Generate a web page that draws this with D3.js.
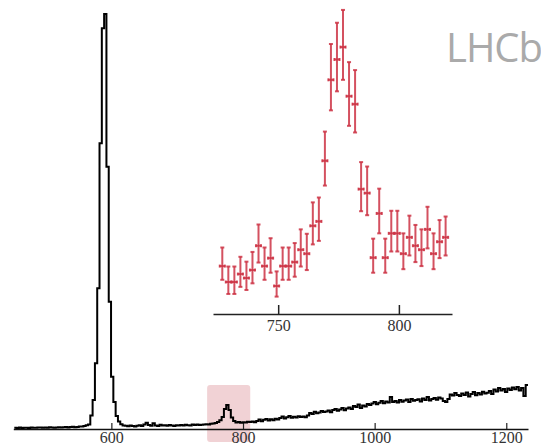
<!DOCTYPE html>
<html>
<head>
<meta charset="utf-8">
<script src="https://cdnjs.cloudflare.com/ajax/libs/d3/7.8.5/d3.min.js"></script>
<style>
  body { margin: 0; background: #fff; }
  svg { display: block; }
</style>
</head>
<body>
<svg class="lhcb" width="541" height="447"></svg>
<script>
// main spectrum, 3.5 MeV bins starting at 452.5
var mainStart = 452.5;
var mainBin = 3.5;
var mainCounts = [
  12, 10, 14, 11, 13, 12, 10, 15, 13, 12,
  14, 16, 12, 15, 13, 17, 14, 12, 16, 18,
  15, 17, 20, 16, 19, 22, 18, 21, 24, 26,
  30, 38, 45, 135, 290, 657, 1407, 2857, 4007, 4150,
  2623, 1273, 523, 270, 130, 75, 48, 35, 32, 28,
  35, 30, 26, 33, 38, 30, 45, 62, 40, 33,
  58, 36, 30, 42, 35, 38, 32, 40, 36, 30,
  38, 34, 40, 36, 42, 38, 35, 44, 40, 46,
  40, 42, 45, 48, 44, 52, 55, 60, 70, 88,
  120, 200, 240, 190, 115, 80, 65, 70, 62, 68,
  66, 72, 70, 75, 68, 80, 95, 78, 92, 100,
  85, 98, 88, 102, 95, 110, 125, 105, 118, 130,
  112, 122, 115, 128, 120, 125, 118, 135, 160, 150,
  172, 158, 165, 180, 170, 175, 185, 168, 190, 200,
  182, 195, 210, 188, 205, 215, 200, 230, 220, 245,
  210, 235, 225, 250, 240, 255, 270, 248, 262, 280,
  258, 275, 265, 320, 270, 280, 265, 290, 272, 285,
  295, 270, 300, 282, 290, 298, 275, 305, 290, 320,
  285, 300, 310, 292, 315, 305, 280, 270, 300, 345,
  335, 360, 340, 330, 355, 340, 365, 325, 350, 370,
  338, 360, 345, 372, 355, 362, 380, 350, 395, 375,
  410, 385, 400, 370, 405, 390, 415, 398, 420, 385,
  410, 330, 440
];
var mainTicks = [600, 800, 1000, 1200];
var highlight = [745.5, 811];

// zoomed region, 2.5 MeV bins starting at 725.6
var insetStart = 725.6;
var insetBin = 2.5;
var insetCounts = [13.0, 9.4, 9.4, 11.2, 10.3, 12.1, 17.6, 13.0, 14.8, 8.5,
  13.0, 13.0, 13.9, 16.7, 15.8, 22.1, 23.1, 36.8, 55.1, 59.7,
  62.5, 51.4, 49.6, 30.4, 29.5, 14.9, 24.9, 14.9, 20.4, 20.4,
  15.8, 19.5, 17.6, 16.7, 21.3, 15.8, 18.5, 19.5];
var insetHigh = [17.2, 12.9, 12.9, 15.1, 14.0, 16.2, 22.4, 17.2, 19.3, 11.8,
  17.2, 17.2, 18.2, 21.3, 20.3, 27.4, 28.5, 43.4, 63.2, 68.0,
  70.9, 59.1, 57.3, 36.5, 35.5, 19.2, 30.5, 19.2, 25.5, 25.5,
  20.4, 24.4, 22.3, 21.3, 26.4, 20.4, 23.4, 24.2];
var insetLow = [9.9, 6.7, 6.7, 8.3, 7.6, 9.1, 13.8, 9.9, 11.5, 6.1,
  9.9, 9.9, 10.6, 12.9, 12.1, 17.9, 18.7, 31.2, 48.2, 52.5,
  55.1, 44.7, 43.2, 25.4, 24.5, 11.5, 20.4, 11.5, 16.3, 16.3,
  12.3, 15.4, 13.9, 13.0, 17.0, 12.3, 14.8, 15.4];
var insetTicks = [750, 800];

var svg = d3.select(".lhcb");

var x = d3.scaleLinear()
    .domain([451, 1233])
    .range([13.3, 528]);

var y = d3.scaleLinear()
    .domain([0, 4150])
    .range([429, 14]);

var xi = d3.scaleLinear()
    .domain([723, 822])
    .range([213, 452]);

var yi = d3.scaleLinear()
    .domain([0, 70])
    .range([323.6, 13.9]);

// LHCb label
svg.append("text")
    .attr("x", 446)
    .attr("y", 62)
    .attr("font-family", "Open Sans")
    .attr("font-size", 40)
    .attr("letter-spacing", -1)
    .attr("fill", "#aaaaaa")
    .text("LHCb");

// highlighted window
svg.append("rect")
    .attr("x", x(highlight[0]))
    .attr("width", x(highlight[1]) - x(highlight[0]))
    .attr("y", 385)
    .attr("height", 57)
    .attr("rx", 3)
    .attr("fill", "#f1d2d5");

// main axis
var mainAxis = d3.axisBottom(x)
    .tickValues(mainTicks)
    .tickFormat(d3.format("d"))
    .tickSizeInner(-6)
    .tickSizeOuter(0)
    .tickPadding(3);

var gMain = svg.append("g")
    .attr("transform", "translate(0," + y(0) + ")")
    .call(mainAxis);

gMain.select(".domain").attr("stroke", "#111").attr("stroke-width", 1.5);
gMain.selectAll(".tick line").attr("stroke", "#222").attr("stroke-width", 1.2);
gMain.selectAll(".tick text")
    .style("font-family", "'Liberation Serif', serif")
    .attr("font-size", 16)
    .attr("fill", "#333");

// step histogram
var pts = mainCounts.map(function(d, i) { return [mainStart + i * mainBin, d]; });
pts.push([mainStart + mainCounts.length * mainBin, mainCounts[mainCounts.length - 1]]);

var step = d3.line()
    .x(function(d) { return x(d[0]); })
    .y(function(d) { return y(d[1]); })
    .curve(d3.curveStepAfter);

svg.append("path")
    .datum(pts)
    .attr("d", step)
    .attr("fill", "none")
    .attr("stroke", "#000")
    .attr("stroke-width", 2);

// inset axis
var insetAxis = d3.axisBottom(xi)
    .tickValues(insetTicks)
    .tickFormat(d3.format("d"))
    .tickSizeInner(-9)
    .tickSizeOuter(0)
    .tickPadding(6);

var gInset = svg.append("g")
    .attr("transform", "translate(0,314)")
    .call(insetAxis);

gInset.select(".domain").attr("stroke", "#222").attr("stroke-width", 1.6);
gInset.selectAll(".tick line").attr("stroke", "#222").attr("stroke-width", 1.5);
gInset.selectAll(".tick text")
    .style("font-family", "'Liberation Serif', serif")
    .attr("font-size", 16)
    .attr("fill", "#333");

// inset error bars
var red = "#cc3344";
var pt = svg.append("g")
    .attr("stroke", red)
    .attr("stroke-width", 2)
    .attr("stroke-opacity", 0.85)
  .selectAll("g")
    .data(insetCounts)
  .enter().append("g");

function cx(i) { return xi(insetStart + (i + 0.5) * insetBin); }

pt.append("line")
    .attr("x1", function(d, i) { return cx(i); })
    .attr("x2", function(d, i) { return cx(i); })
    .attr("y1", function(d, i) { return yi(insetLow[i]); })
    .attr("y2", function(d, i) { return yi(insetHigh[i]); });

pt.append("line")
    .attr("x1", function(d, i) { return cx(i) - 2; })
    .attr("x2", function(d, i) { return cx(i) + 2; })
    .attr("y1", function(d, i) { return yi(insetHigh[i]); })
    .attr("y2", function(d, i) { return yi(insetHigh[i]); });

pt.append("line")
    .attr("x1", function(d, i) { return cx(i) - 2; })
    .attr("x2", function(d, i) { return cx(i) + 2; })
    .attr("y1", function(d, i) { return yi(insetLow[i]); })
    .attr("y2", function(d, i) { return yi(insetLow[i]); });

pt.append("line")
    .attr("x1", function(d, i) { return xi(insetStart + i * insetBin); })
    .attr("x2", function(d, i) { return xi(insetStart + (i + 1) * insetBin); })
    .attr("y1", function(d) { return yi(d); })
    .attr("y2", function(d) { return yi(d); });

pt.append("line")
    .attr("x1", function(d, i) { return xi(insetStart + i * insetBin) + 0.5; })
    .attr("x2", function(d, i) { return xi(insetStart + i * insetBin) + 0.5; })
    .attr("y1", function(d) { return yi(d) - 1.5; })
    .attr("y2", function(d) { return yi(d) + 1.5; });

pt.append("line")
    .attr("x1", function(d, i) { return xi(insetStart + (i + 1) * insetBin) - 0.5; })
    .attr("x2", function(d, i) { return xi(insetStart + (i + 1) * insetBin) - 0.5; })
    .attr("y1", function(d) { return yi(d) - 1.5; })
    .attr("y2", function(d) { return yi(d) + 1.5; });
</script>
</body>
</html>
